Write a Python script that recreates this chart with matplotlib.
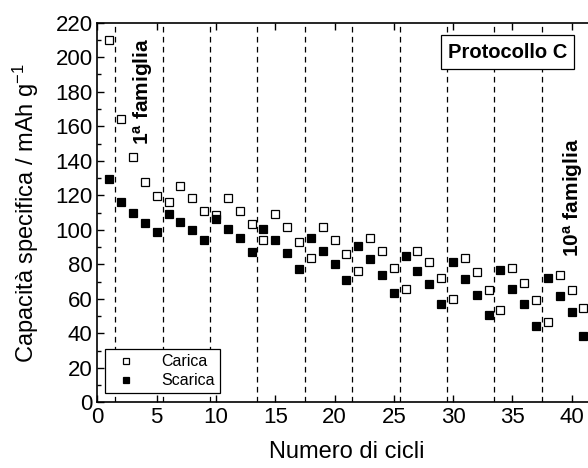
import matplotlib
matplotlib.use("Agg")
import matplotlib.pyplot as plt
from matplotlib.ticker import MultipleLocator

plt.rcParams['font.family'] = ['Liberation Sans', 'DejaVu Sans']
plt.rcParams['mathtext.fontset'] = 'custom'
plt.rcParams['mathtext.rm'] = 'Liberation Sans'
plt.rcParams['mathtext.bf'] = 'Liberation Sans:bold'
plt.rcParams['mathtext.default'] = 'regular'

cycles = list(range(1, 42))
carica = [210, 164, 142, 128, 119.5, 116, 125.5, 118.5, 111, 108.5,
          118.5, 111, 103.5, 94, 109, 101.5, 93, 83.5, 101.5, 94,
          86, 76, 95, 87.5, 78, 66, 88, 81.5, 72, 60,
          83.5, 75.5, 65, 53.5, 78, 69, 59.5, 46.5, 74, 65, 55]
scarica = [129.5, 116, 110, 104, 99, 109, 104.5, 100, 94, 106.5,
           100.5, 95, 87, 100.5, 94, 86.5, 77.5, 95.5, 88, 80.5,
           71, 90.5, 83, 74, 63.5, 85, 76, 68.5, 57, 81.5,
           71.5, 62.5, 50.5, 76.5, 66, 57, 44.5, 72, 61.5, 52.5, 38.5]
family_bounds = [1.5, 5.5, 9.5, 13.5, 17.5, 21.5, 25.5, 29.5, 33.5, 37.5]
x_ticks = [0, 5, 10, 15, 20, 25, 30, 35, 40]
y_ticks = [0, 20, 40, 60, 80, 100, 120, 140, 160, 180, 200, 220]

fig = plt.figure(figsize=(5.88, 4.68), dpi=100)
ax = fig.add_axes([0.1658, 0.1400, 0.8465, 0.8115])

for xb in family_bounds:
    ax.axvline(xb, color='black', lw=0.9, ls=(0, (4.5, 3.5)), zorder=1)

ax.plot(cycles, carica, ls='none', marker='s', ms=5.5, mfc='white',
        mec='black', mew=0.9, label='Carica', zorder=3)
ax.plot(cycles, scarica, ls='none', marker='s', ms=5.5, mfc='black',
        mec='black', mew=0.9, label='Scarica', zorder=3)

ax.set_xlim(0, 42)
ax.set_ylim(0, 220)
ax.set_xticks(x_ticks)
ax.set_yticks(y_ticks)
ax.yaxis.set_minor_locator(MultipleLocator(10))
ax.tick_params(which='both', direction='in', top=True, right=False,
               labelsize=16, width=1.0)
ax.tick_params(which='major', length=5)
ax.tick_params(which='minor', length=3)
ax.spines['right'].set_visible(False)
for s in ['left', 'bottom', 'top']:
    ax.spines[s].set_linewidth(1.2)

ax.set_xlabel('Numero di cicli', fontsize=17, labelpad=9)
ax.set_ylabel('Capacità specifica / mAh g$^{-1}$', fontsize=17, labelpad=10)

ax.text(3.88, 180, '1$^{\\mathbf{a}}$ famiglia', rotation=90, ha='center',
        va='center', fontsize=15, fontweight='bold')
ax.text(40.1, 119, '10$^{\\mathbf{a}}$ famiglia', rotation=90, ha='center',
        va='center', fontsize=15, fontweight='bold')
ax.text(34.6, 203, 'Protocollo C', ha='center', va='center', fontsize=14.5,
        fontweight='bold',
        bbox=dict(boxstyle='square,pad=0.35', fc='white', ec='black', lw=0.9))

leg = ax.legend(loc='lower left', bbox_to_anchor=(0.016, 0.025),
                borderaxespad=0, fontsize=11.5, markerscale=0.75,
                fancybox=False, framealpha=1, edgecolor='black',
                handletextpad=1.2, borderpad=0.3, labelspacing=0.25)
leg.get_frame().set_linewidth(0.9)

fig.savefig('out.png', dpi=100)
